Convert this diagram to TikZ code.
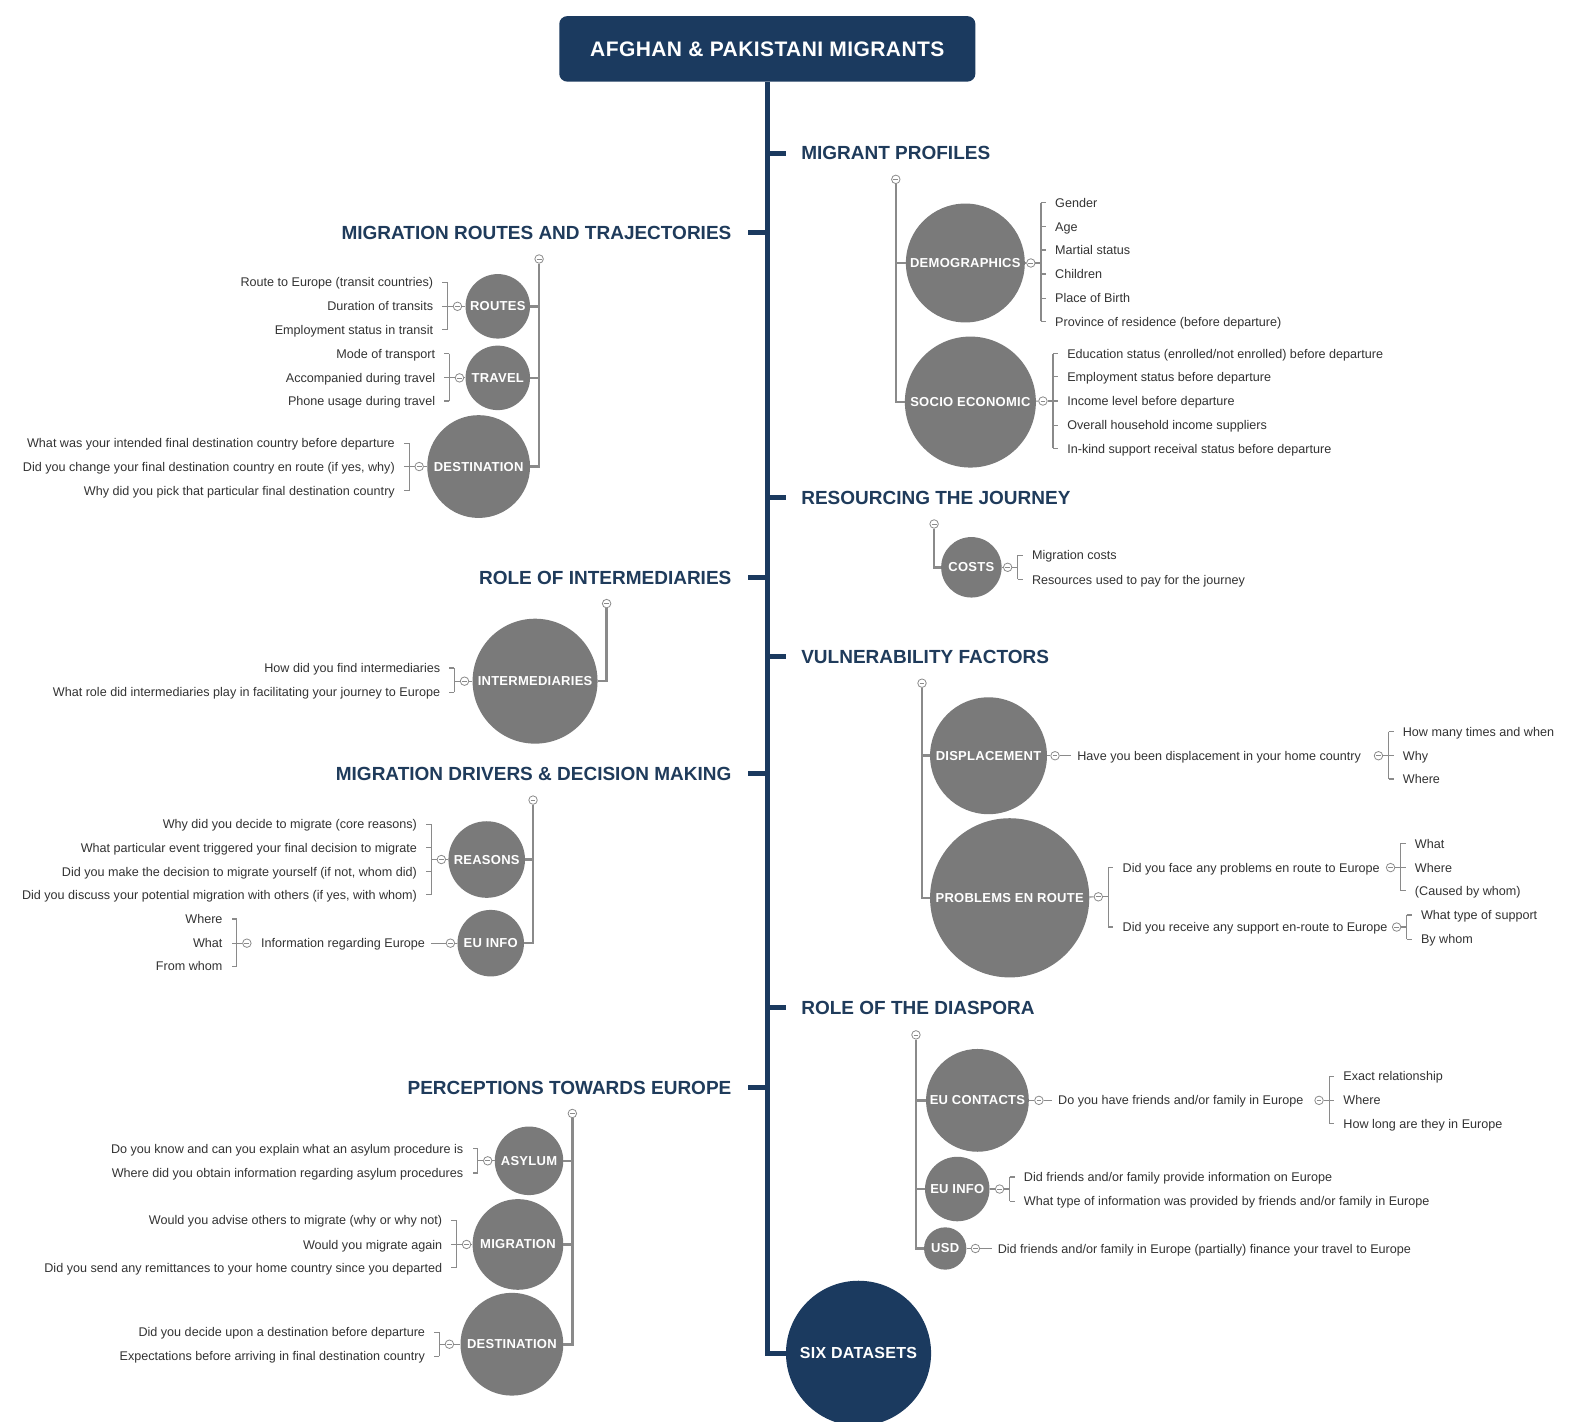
\documentclass[tikz,border=0pt]{standalone}
\usepackage{fontspec}
\setmainfont{Liberation Sans}
\newfontfamily\catfont[LetterSpace=2]{Liberation Sans}
\usetikzlibrary{calc}
\definecolor{navy}{HTML}{1B3A5F}
\definecolor{catgray}{HTML}{7A7A7A}
\definecolor{lngray}{HTML}{8A8A8A}
\definecolor{txt}{HTML}{333333}
\definecolor{head}{HTML}{1F3B5B}
\tikzset{
  trunk/.style={draw=navy,line width=5pt},
  grp/.style={draw=lngray,line width=2.6pt},
  br/.style={draw=lngray,line width=1.2pt},
  mini/.style={circle,draw=lngray,fill=white,line width=0.8pt,minimum size=8.5pt,inner sep=0pt,
    path picture={\draw[lngray,line width=0.7pt] ([xshift=-2.4pt]path picture bounding box.center) -- ([xshift=2.4pt]path picture bounding box.center);}},
  item/.style={inner sep=0pt,text=txt,font=\fontsize{12.6}{14}\selectfont,text height=11.7pt,text depth=2.5pt},
  heading/.style={inner sep=0pt,text=head,font=\fontsize{19}{22}\selectfont\bfseries,text height=13.6pt,text depth=0pt},
  cat/.style={circle,fill=catgray,inner sep=0pt},
  cattxt/.style={inner sep=0pt,text=white,font=\catfont\fontsize{13}{15}\selectfont\bfseries},
}
\newcommand\Cat[5]{\node[cat,minimum size=#4*1.0077pt] (#1) at (#2,#3) {};
  \node[cattxt] (#1-l) at (#1) {#5};}
\newcommand\RG[6]{%
  \coordinate (#1t) at (#2,#4);
  \coordinate (#1b) at (#2,#5);
  \draw[br] (#1t) -- (#1b);
  \node[mini] (#1) at ({#2-10},#3) {};
  \draw[br] (#1.east) -- (#1.east -| #1t);
  \foreach \qy/\qtxt [count=\qi] in {#6} {
    \node[item,anchor=west] (#1-\qi) at ({#2+14},\qy) {\qtxt};
    \draw[br] (#1-\qi.west -| #1t) -- ++(5,0);
  }%
}
\newcommand\LG[6]{%
  \coordinate (#1t) at (#2,#4);
  \coordinate (#1b) at (#2,#5);
  \draw[br] (#1t) -- (#1b);
  \node[mini] (#1) at ({#2+10},#3) {};
  \draw[br] (#1.west) -- (#1.west -| #1t);
  \foreach \qy/\qtxt [count=\qi] in {#6} {
    \node[item,anchor=east] (#1-\qi) at ({#2-14},\qy) {\qtxt};
    \draw[br] (#1-\qi.east -| #1t) -- ++(-5,0);
  }%
}
\begin{document}
\begin{tikzpicture}[x={(1.0077pt,0pt)},y={(0pt,-1.0077pt)}]
\useasboundingbox[fill=white] (0,0) rectangle (1568,1411);

\node[fill=navy,rounded corners=8pt,minimum width=413*1.0077pt,minimum height=65*1.0077pt,text=white,
  font=\catfont\fontsize{21}{24}\selectfont\bfseries,inner sep=0pt] (title) at (761.5,48.5) {AFGHAN \& PAKISTANI MIGRANTS};
\node[circle,fill=navy,minimum size=144*1.0077pt,inner sep=0pt] (six) at (852,1343) {};
\node[inner sep=0pt,text=white,font=\catfont\fontsize{16}{18}\selectfont\bfseries] (six-l) at (six) {SIX DATASETS};
\draw[trunk] (title.south) |- (six.west);

\node[heading,anchor=west] (hp) at (795,152) {MIGRANT PROFILES};
\node[heading,anchor=west] (hr) at (795,494) {RESOURCING THE JOURNEY};
\node[heading,anchor=west] (hv) at (795,652) {VULNERABILITY FACTORS};
\node[heading,anchor=west] (hd) at (795,1000) {ROLE OF THE DIASPORA};
\node[heading,anchor=east] (hm) at (726,231) {MIGRATION ROUTES AND TRAJECTORIES};
\node[heading,anchor=east] (hi) at (726,573) {ROLE OF INTERMEDIARIES};
\node[heading,anchor=east] (hdr) at (726,768) {MIGRATION DRIVERS \& DECISION MAKING};
\node[heading,anchor=east] (hpe) at (726,1079) {PERCEPTIONS TOWARDS EUROPE};
\foreach \h in {hp,hr,hv,hd} \draw[trunk] (title.south |- \h.west) -- ($(\h.west)+(-15,0)$);
\foreach \h in {hm,hi,hdr,hpe} \draw[trunk] (title.south |- \h.east) -- ($(\h.east)+(16,0)$);

% ---------- MIGRANT PROFILES
\node[mini] (g1) at (889,178) {};
\Cat{demo}{958}{261}{118}{DEMOGRAPHICS}
\Cat{soc}{963}{399}{130}{SOCIO ECONOMIC}
\draw[grp] (g1) |- (demo.west);
\draw[grp] (g1) |- (soc.west);
\RG{dm}{1033}{261}{201}{319}{201/{Gender},225/{Age},248/{Martial status},272/{Children},296/{Place of Birth},319/{Province of residence (before departure)}}
\RG{so}{1045}{398}{351}{445}{351/{Education status (enrolled/not enrolled) before departure},374/{Employment status before departure},398/{Income level before departure},422/{Overall household income suppliers},445/{In-kind support receival status before departure}}
\draw[br] (demo) -- (dm);
\draw[br] (soc) -- (so);

% ---------- RESOURCING
\node[mini] (g2) at (927,520) {};
\Cat{cost}{964}{563}{60}{COSTS}
\draw[grp] (g2) |- (cost.west);
\RG{co}{1010}{563}{551}{575}{551/{Migration costs},575/{Resources used to pay for the journey}}
\draw[br] (cost) -- (co);

% ---------- VULNERABILITY
\node[mini] (g3) at (915,678) {};
\Cat{disp}{981}{750}{116}{DISPLACEMENT}
\Cat{prob}{1002}{891}{158}{PROBLEMS EN ROUTE}
\draw[grp] (g3) |- (disp.west);
\draw[grp] (g3) |- (prob.west);
\node[mini] (dpm) at (1047,750) {};
\node[item,anchor=west] (dpq) at (1069,750) {Have you been displacement in your home country};
\draw[br] (disp) -- (dpm);
\draw[br,shorten >=6pt] (dpm) -- (dpq.west);
\RG{dq}{1378}{750}{726}{773}{726/{How many times and when},750/{Why},773/{Where}}
\RG{pr}{1100}{890}{861}{920}{861/{Did you face any problems en route to Europe},920/{Did you receive any support en-route to Europe}}
\draw[br] (prob) -- (pr);
\RG{pa}{1390}{861}{837}{884}{837/{What},861/{Where},884/{(Caused by whom)}}
\RG{pb}{1396}{920}{908}{932}{908/{What type of support},932/{By whom}}

% ---------- DIASPORA
\node[mini] (g4) at (909,1027) {};
\Cat{euc}{970}{1092}{102}{EU CONTACTS}
\Cat{eui}{950}{1180}{64}{EU INFO}
\Cat{usd}{938}{1239}{42}{USD}
\draw[grp] (g4) |- (euc.west);
\draw[grp] (g4) |- (eui.west);
\draw[grp] (g4) |- (usd.west);
\node[mini] (ecm) at (1031,1092) {};
\node[item,anchor=west] (ecq) at (1050,1092) {Do you have friends and/or family in Europe};
\draw[br] (euc) -- (ecm);
\draw[br,shorten >=6pt] (ecm) -- (ecq.west);
\RG{ec}{1319}{1092}{1068}{1115}{1068/{Exact relationship},1092/{Where},1115/{How long are they in Europe}}
\RG{ei}{1002}{1180}{1168}{1192}{1168/{Did friends and/or family provide information on Europe},1192/{What type of information was provided by friends and/or family in Europe}}
\draw[br] (eui) -- (ei);
\node[mini] (usm) at (968,1239) {};
\node[item,anchor=west] (usq) at (990,1239) {Did friends and/or family in Europe (partially) finance your travel to Europe};
\draw[br] (usd) -- (usm);
\draw[br,shorten >=6pt] (usm) -- (usq.west);

% ---------- ROUTES
\node[mini] (l1) at (535,257) {};
\Cat{rou}{494}{304}{64}{ROUTES}
\Cat{tra}{494}{375}{64}{TRAVEL}
\Cat{des}{475}{463}{102}{DESTINATION}
\draw[grp] (l1) |- (rou.east);
\draw[grp] (l1) |- (tra.east);
\draw[grp] (l1) |- (des.east);
\LG{ro}{444}{304}{280}{327}{280/{Route to Europe (transit countries)},304/{Duration of transits},327/{Employment status in transit}}
\LG{tr}{446}{375}{351}{398}{351/{Mode of transport},375/{Accompanied during travel},398/{Phone usage during travel}}
\LG{de}{406}{463}{440}{487}{440/{What was your intended final destination country before departure},463/{Did you change your final destination country en route (if yes, why)},487/{Why did you pick that particular final destination country}}
\draw[br] (rou) -- (ro);
\draw[br] (tra) -- (tr);
\draw[br] (des) -- (de);

% ---------- INTERMEDIARIES
\node[mini] (l2) at (602,599) {};
\Cat{inter}{531}{676}{124}{INTERMEDIARIES}
\draw[grp] (l2) |- (inter.east);
\LG{in}{451}{676}{663}{687}{663/{How did you find intermediaries},687/{What role did intermediaries play in facilitating your journey to Europe}}
\draw[br] (inter) -- (in);

% ---------- DRIVERS
\node[mini] (l3) at (529,794) {};
\Cat{rea}{483}{853}{76}{REASONS}
\Cat{eu2}{487}{936}{66}{EU INFO}
\draw[grp] (l3) |- (rea.east);
\draw[grp] (l3) |- (eu2.east);
\LG{re}{428}{853}{818}{888}{818/{Why did you decide to migrate (core reasons)},841/{What particular event triggered your final decision to migrate},865/{Did you make the decision to migrate yourself (if not, whom did)},888/{Did you discuss your potential migration with others (if yes, with whom)}}
\draw[br] (rea) -- (re);
\node[mini] (eum) at (447,936) {};
\node[item,anchor=east] (euq) at (422,936) {Information regarding Europe};
\draw[br] (eu2) -- (eum);
\draw[br,shorten >=6pt] (eum) -- (euq.east);
\LG{ie}{235}{936}{912}{959}{912/{Where},936/{What},959/{From whom}}

% ---------- PERCEPTIONS
\node[mini] (l4) at (568,1105) {};
\Cat{asy}{525}{1152}{68}{ASYLUM}
\Cat{mig}{514}{1235}{90}{MIGRATION}
\Cat{de2}{508}{1334}{102}{DESTINATION}
\draw[grp] (l4) |- (asy.east);
\draw[grp] (l4) |- (mig.east);
\draw[grp] (l4) |- (de2.east);
\LG{as}{474}{1152}{1140}{1164}{1140/{Do you know and can you explain what an asylum procedure is},1164/{Where did you obtain information regarding asylum procedures}}
\LG{mi}{453}{1235}{1211}{1258}{1211/{Would you advise others to migrate (why or why not)},1235/{Would you migrate again},1258/{Did you send any remittances to your home country since you departed}}
\LG{dd}{436}{1334}{1322}{1346}{1322/{Did you decide upon a destination before departure},1346/{Expectations before arriving in final destination country}}
\draw[br] (asy) -- (as);
\draw[br] (mig) -- (mi);
\draw[br] (de2) -- (dd);
\end{tikzpicture}
\end{document}
